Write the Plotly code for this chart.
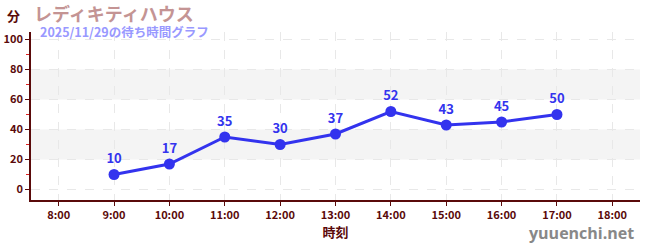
import plotly.graph_objects as go

hours = [9, 10, 11, 12, 13, 14, 15, 16, 17]
waits = [10, 17, 35, 30, 37, 52, 43, 45, 50]
tick_hours = [8, 9, 10, 11, 12, 13, 14, 15, 16, 17, 18]
tick_labels = [f"{h}:00" for h in tick_hours]
title = "レディキティハウス"
subtitle = "2025/11/29の待ち時間グラフ"

font = "Noto Sans CJK JP"
tfont = "Liberation Sans Narrow, Noto Sans CJK JP"
axis_col = "#5a0a0a"

fig = go.Figure()
fig.add_trace(go.Scatter(
    x=hours, y=waits, mode="lines+markers+text",
    text=[str(v) for v in waits], textposition="top center",
    textfont=dict(family=font, size=13, color="#3333ee", weight="bold"),
    line=dict(color="#3333ee", width=3),
    marker=dict(color="#3333ee", size=11),
    cliponaxis=False, hoverinfo="skip"))

for y0, y1 in [(20, 40), (60, 80)]:
    fig.add_shape(type="rect", xref="paper", yref="y", x0=0, x1=1, y0=y0, y1=y1,
                  fillcolor="#f4f4f4", line_width=0, layer="below")

fig.update_layout(
    width=650, height=250, margin=dict(l=31, r=10, t=32, b=50),
    paper_bgcolor="white", plot_bgcolor="white", showlegend=False,
    font=dict(family=font, color=axis_col),
    xaxis=dict(range=[7.5, 18.5], tickvals=tick_hours, ticktext=tick_labels,
               automargin=False,
               showline=True, linecolor=axis_col, linewidth=1.5,
               ticks="outside", ticklen=4, tickcolor=axis_col,
               tickfont=dict(size=11, color=axis_col, family=tfont, weight="bold"),
               showgrid=True, gridcolor="#e8e8e8", griddash="dash", zeroline=False,
               title=dict(text="時刻", font=dict(size=13, color=axis_col, weight="bold"),
                          standoff=3)),
    yaxis=dict(range=[-7, 105], tickvals=[0, 20, 40, 60, 80, 100],
               automargin=False,
               showline=True, linecolor=axis_col, linewidth=1.5,
               ticks="outside", ticklen=4, tickcolor=axis_col,
               tickfont=dict(size=11, color=axis_col, family=tfont, weight="bold"),
               showgrid=True, gridcolor="#e8e8e8", griddash="dash", zeroline=False,
               minor=dict(tickvals=[10, 30, 50, 70, 90], ticks="outside", ticklen=3,
                          tickcolor="#dd2222", showgrid=False)),
)
ph = 250 - 32 - 50
pw = 650 - 31 - 10
def px(xp):
    return (xp - 31) / pw
def py(yp):
    return (250 - 50 - yp) / ph

fig.add_annotation(text="分", xref="paper", yref="paper", x=px(13), y=py(16),
                   xanchor="center", yanchor="middle", showarrow=False,
                   font=dict(size=13, color=axis_col, weight="bold"))
fig.add_annotation(text=title, xref="paper", yref="paper", x=px(32), y=py(13),
                   xanchor="left", yanchor="middle", showarrow=False,
                   font=dict(size=18, color="#c49494", family=font, weight="bold"))
fig.add_annotation(text=subtitle, xref="paper", yref="paper", x=px(38), y=py(31),
                   xanchor="left", yanchor="middle", showarrow=False,
                   font=dict(size=12.5, color="#9999ff", family=font, weight="bold"))
fig.add_annotation(text="yuuenchi.net", xref="paper", yref="paper", x=px(636), y=py(233),
                   xanchor="right", yanchor="middle", showarrow=False,
                   font=dict(size=16, color="#888888", family="Open Sans", weight="bold"))

fig.write_html("out.html")
